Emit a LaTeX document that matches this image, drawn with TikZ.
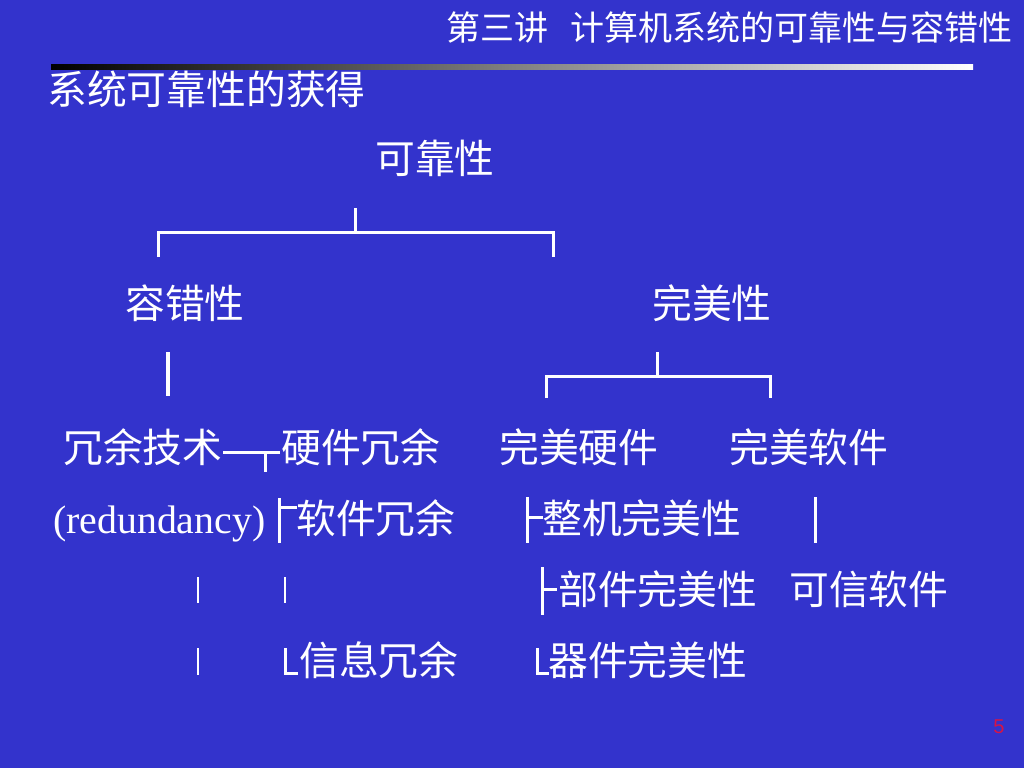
\documentclass[tikz,border=0pt]{standalone}
\usepackage{fontspec}
\newfontfamily\cjk{Noto Sans CJK SC}
\newfontfamily\tms{Liberation Serif}
\newfontfamily\arl{Liberation Sans}
\definecolor{bg}{RGB}{51,51,204}
\definecolor{pgred}{RGB}{214,20,70}
\tikzset{
  body/.style={text=white, inner sep=0pt, anchor=base west, font=\cjk\fontsize{39.8}{40}\selectfont},
  hd/.style={text=white, inner sep=0pt, font=\cjk\fontsize{34}{34}\selectfont},
  conn/.style={draw=white, line width=3pt, line join=miter},
  thinconn/.style={draw=white, line width=2pt},
}
\begin{document}
\begin{tikzpicture}[x=1pt,y=-1pt]
\fill[bg] (0,0) rectangle (1024,768);
\path[use as bounding box] (0,0) rectangle (1024,768);
% header
\node[hd, anchor=base east] (title) at (1013,41) {第三讲\hspace{22pt}计算机系统的可靠性与容错性};
\shade[left color=black, right color=white] (51,64) rectangle (973,69);
\node[body] (heading) at (47,104) {系统可靠性的获得};
% tree nodes
\node[body] (rel) at (375,173) {可靠性};
\node[body] (ft) at (125,318) {容错性};
\node[body] (perf) at (652,318) {完美性};
\node[body] (redtech) at (63,462) {冗余技术};
\node[body] (hwred) at (281,462) {硬件冗余};
\node[body] (phw) at (499,462) {完美硬件};
\node[body] (psw) at (729,462) {完美软件};
\node[body, font=\tms\fontsize{39.8}{40}\selectfont] (redund) at (53,533) {(redundancy)};
\node[body] (swred) at (296,533) {软件冗余};
\node[body] (sysp) at (542,533) {整机完美性};
\node[body] (compp) at (558,604) {部件完美性};
\node[body] (trsw) at (789,604) {可信软件};
\node[body] (infred) at (299,675) {信息冗余};
\node[body] (devp) at (548,675) {器件完美性};
\node[text=pgred, font=\arl\fontsize{20}{20}\selectfont, inner sep=0pt, anchor=base] (pg) at (999,733) {5};
% connector coordinates
\coordinate (t0) at (355,208); \coordinate (t1) at (355,232);
\coordinate (tl) at (158,232); \coordinate (tr) at (553,232);
\coordinate (tlb) at (158,257); \coordinate (trb) at (553,257);
\draw[conn] (t0) -- (t1);
\draw[conn] (tlb) -- (tl) -- (tr) -- (trb);
\coordinate (p0) at (657,352); \coordinate (p1) at (657,376);
\coordinate (pl) at (546,376); \coordinate (pr) at (770,376);
\coordinate (plb) at (546,398); \coordinate (prb) at (770,398);
\draw[conn] (p0) -- (p1);
\draw[conn] (plb) -- (pl) -- (pr) -- (prb);
\coordinate (f0) at (168,352); \coordinate (f1) at (168,396);
\draw[conn, line width=3.5pt] (f0) -- (f1);
% row 1
\coordinate (r1a) at (223,452); \coordinate (r1b) at (280,452);
\coordinate (r1c) at (265,452); \coordinate (r1d) at (265,472);
\draw[conn] (r1a) -- (r1b);
\draw[conn] (r1c) -- (r1d);
% row 2
\coordinate (s0) at (279,498); \coordinate (s1) at (279,543);
\coordinate (s2) at (279,507); \coordinate (s3) at (297,507);
\draw[conn] (s0) -- (s1); \draw[conn] (s2) -- (s3);
\coordinate (z0) at (527,497); \coordinate (z1) at (527,543);
\coordinate (z2) at (527,517); \coordinate (z3) at (543,517);
\draw[conn] (z0) -- (z1); \draw[conn] (z2) -- (z3);
\coordinate (v0) at (815,497); \coordinate (v1) at (815,543);
\draw[conn] (v0) -- (v1);
% row 3
\coordinate (a0) at (198,577); \coordinate (a1) at (198,603);
\coordinate (b0) at (285,577); \coordinate (b1) at (285,603);
\draw[thinconn] (a0) -- (a1); \draw[thinconn] (b0) -- (b1);
\coordinate (c0) at (542,567); \coordinate (c1) at (542,615);
\coordinate (c2) at (542,589); \coordinate (c3) at (557,589);
\draw[conn] (c0) -- (c1); \draw[conn] (c2) -- (c3);
% row 4
\coordinate (d0) at (198,648); \coordinate (d1) at (198,675);
\draw[thinconn] (d0) -- (d1);
\coordinate (e0) at (285,648); \coordinate (e1) at (285,673); \coordinate (e2) at (298,673);
\draw[conn] (e0) -- (e1) -- (e2);
\coordinate (g0) at (537,648); \coordinate (g1) at (537,673); \coordinate (g2) at (549,673);
\draw[conn] (g0) -- (g1) -- (g2);
\end{tikzpicture}
\end{document}
